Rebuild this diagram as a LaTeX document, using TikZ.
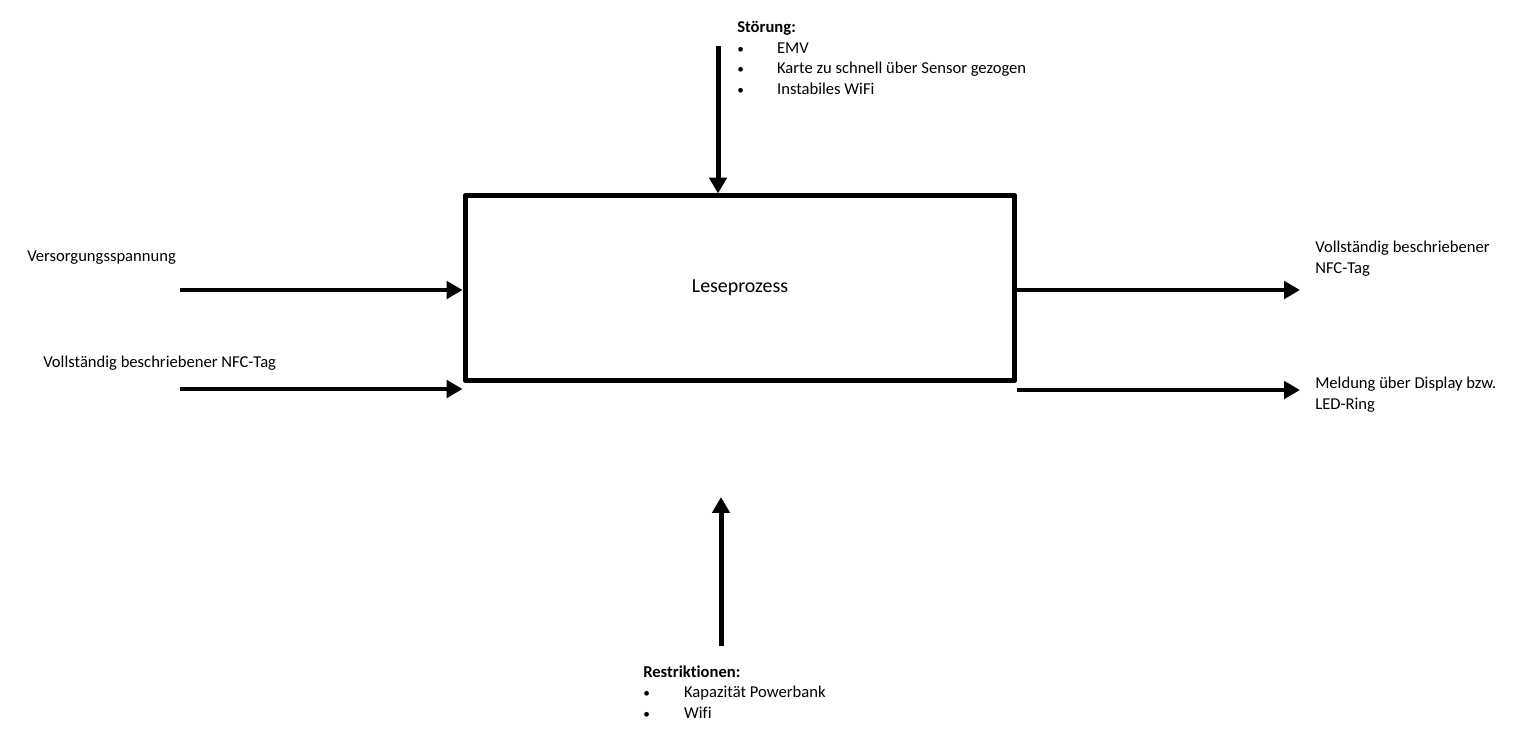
\documentclass[tikz,border=0pt]{standalone}
\usepackage{fontspec}
\setmainfont{Carlito}[Ligatures=NoCommon]
\usepackage{tikz}
\usetikzlibrary{arrows.meta}
\tikzset{>={Triangle[length=12pt,width=13pt]}}
\newcommand{\lpunkt}[1]{\makebox[#1][l]{\fontsize{10}{10}\selectfont\textbullet}}

\begin{document}
\begin{tikzpicture}[x=0.2646mm,y=-0.2646mm,
    flow/.style={->,line width=3.75pt},
    process/.style={draw,line width=3.75pt,line join=round,minimum width=145.5mm,minimum height=48.7mm,font=\fontsize{15}{18}\selectfont},
    txt/.style={anchor=base west,inner sep=0pt,align=left,font=\fontsize{12.5}{15.4}\selectfont}
  ]
  \useasboundingbox (0,0) rectangle (1516,737);

  \node[process] (proc) at (740,288) {Leseprozess};

  % ends of the arrows
  \coordinate (top) at (718,46);
  \coordinate (bot) at (721,646);
  \coordinate (bottip) at (721,497);
  \coordinate (in1) at (180,290);
  \coordinate (in2) at (180,389);
  \coordinate (out1) at (1300,290);
  \coordinate (out2) at (1300,390);

  \draw[flow] (top) -- (top |- proc.north);
  \draw[flow] (bot) -- (bottip);
  \draw[flow] (in1) -- (in1 -| proc.west);
  \draw[flow] (in2) -- (in2 -| proc.west);
  \draw[flow] (out1 -| proc.east) -- (out1);
  \draw[flow] (out2 -| proc.east) -- (out2);

  % texts (placed at the baseline of their last line)
  \node[txt] (stoer) at (737,94) {\textbf{Störung:}\\
    \lpunkt{30pt}EMV\\
    \lpunkt{30pt}Karte zu schnell über Sensor gezogen\\
    \lpunkt{30pt}Instabiles WiFi};
  \node[txt] (restr) at (643,718) {\textbf{Restriktionen:}\\
    \lpunkt{30.75pt}Kapazität Powerbank\\
    \lpunkt{30.75pt}Wifi};
  \node[txt] (versorg) at (27,261) {Versorgungsspannung};
  \node[txt] (nfcin) at (43,367) {Vollständig beschriebener NFC-Tag};
  \node[txt] (nfcout) at (1315,273) {Vollständig beschriebener\\NFC-Tag};
  \node[txt] (meldung) at (1315,409) {Meldung über Display bzw.\\LED-Ring};

\end{tikzpicture}
\end{document}
